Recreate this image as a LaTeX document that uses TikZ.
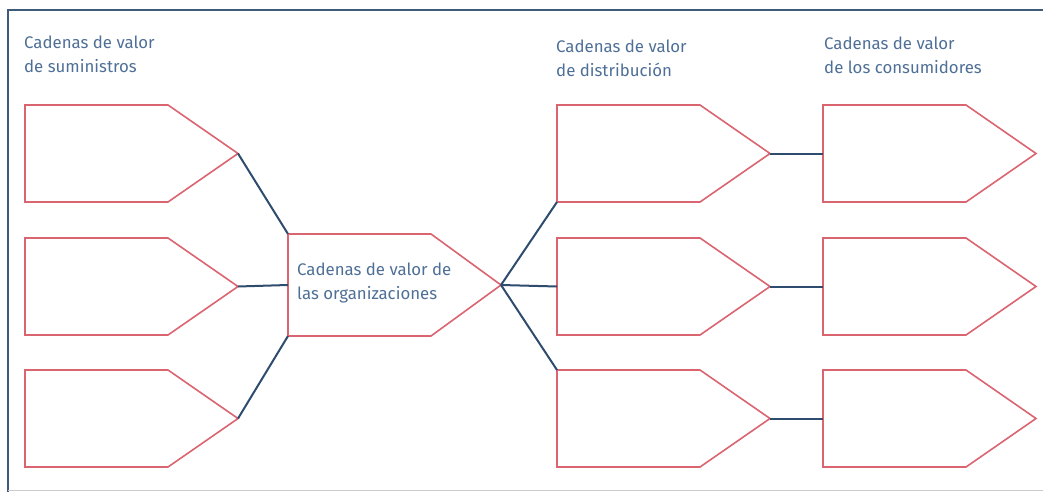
\documentclass[tikz,border=0pt]{standalone}
\usepackage{fontspec}
\setmainfont{Fira Sans}
\definecolor{marco}{HTML}{3F5B7A}
\definecolor{rojo}{HTML}{DB6471}
\definecolor{azulenlace}{HTML}{2E4C6D}
\definecolor{texto}{HTML}{4E6F96}
% pentagon: name, left x, top y, height
\newcommand{\cadena}[4]{%
  \draw [rojo,line width=1.6pt,line join=miter] (#2,#3) -- ++(143,0) -- ++(70,#4/2) -- ++(-70,#4/2) -- ++(-143,0) -- cycle;
  \coordinate (#1-nw) at (#2,#3);
  \coordinate (#1-w) at (#2,#3+#4/2);
  \coordinate (#1-sw) at (#2,#3+#4);
  \coordinate (#1-tip) at (#2+213,#3+#4/2);
}
\begin{document}
\begin{tikzpicture}[x=1pt,y=-1pt,
  titulo/.style={anchor=north west,inner sep=0pt,align=left,text=texto,font=\fontsize{16.8}{24}\selectfont},
  conector/.style={azulenlace,line width=2pt}]
\useasboundingbox (0,0) rectangle (1043,492);

% marco
\draw [marco,line width=2.5pt] (1043,10) -- (8,10) -- (8,492);
\draw [black!20,line width=0.8pt] (8,490) -- (1043,490);

% titulos
\node [titulo] (t-sum) at (24,36) {Cadenas de valor\\de suministros};
\node [titulo] (t-dis) at (556,40) {Cadenas de valor\\de distribución};
\node [titulo] (t-con) at (824,37) {Cadenas de valor\\de los consumidores};

% cadenas
\cadena{s1}{25}{105}{97}
\cadena{s2}{25}{238}{97}
\cadena{s3}{25}{370}{97}
\cadena{org}{288}{234}{102}
\cadena{d1}{557}{105}{97}
\cadena{d2}{557}{238}{97}
\cadena{d3}{557}{370}{97}
\cadena{c1}{823}{105}{97}
\cadena{c2}{823}{238}{97}
\cadena{c3}{823}{370}{97}

\node [titulo,anchor=west] (t-org) at (297,283) {Cadenas de valor de\\las organizaciones};

% enlaces
\draw [conector] (s1-tip) -- (org-nw);
\draw [conector] (s2-tip) -- (org-w);
\draw [conector] (s3-tip) -- (org-sw);
\draw [conector] (org-tip) -- (d1-sw);
\draw [conector] (org-tip) -- (d2-w);
\draw [conector] (org-tip) -- (d3-nw);
\draw [conector] (d1-tip) -- (c1-w);
\draw [conector] (d2-tip) -- (c2-w);
\draw [conector] (d3-tip) -- (c3-w);

\end{tikzpicture}
\end{document}
